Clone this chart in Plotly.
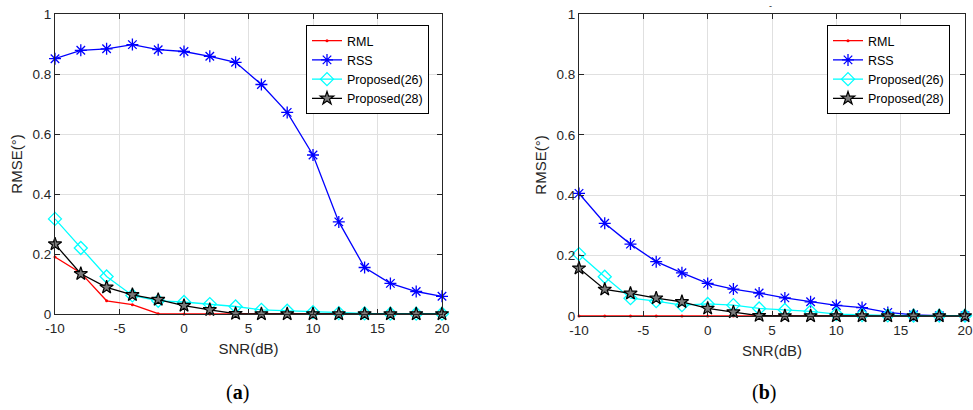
import plotly.graph_objects as go

snr = [-10, -8, -6, -4, -2, 0, 2, 4, 6, 8, 10, 12, 14, 16, 18, 20]

# Panel (a)
rml_a = [0.190, 0.137, 0.044, 0.031, 0.001, 0.0, 0.0, 0.0, 0.0, 0.0, 0.0, 0.0, 0.0, 0.0, 0.0, 0.0]
rss_a = [0.851, 0.879, 0.884, 0.898, 0.881, 0.875, 0.859, 0.839, 0.765, 0.672, 0.530,
         0.307, 0.155, 0.102, 0.075, 0.059]
p26_a = [0.317, 0.220, 0.125, 0.062, 0.044, 0.040, 0.033, 0.025, 0.014, 0.011, 0.006,
         0.003, 0.002, 0.001, 0.001, 0.001]
p28_a = [0.233, 0.134, 0.089, 0.064, 0.048, 0.028, 0.014, 0.001, 0.0, 0.0, 0.0,
         0.0, 0.0, 0.0, 0.0, 0.0]

# Panel (b)
rml_b = [0.0] * 16
rss_b = [0.406, 0.307, 0.238, 0.180, 0.143, 0.108, 0.089, 0.076, 0.060, 0.047, 0.035,
         0.028, 0.012, 0.004, 0.001, 0.001]
p26_b = [0.205, 0.130, 0.059, 0.049, 0.036, 0.040, 0.036, 0.025, 0.020, 0.015, 0.006,
         0.003, 0.002, 0.001, 0.001, 0.001]
p28_b = [0.158, 0.088, 0.075, 0.059, 0.047, 0.025, 0.013, 0.001, 0.0, 0.0, 0.0,
         0.0, 0.0, 0.0, 0.0, 0.0]

names = ["RML", "RSS", "Proposed(26)", "Proposed(28)"]
x_ticks = [-10, -5, 0, 5, 10, 15, 20]
y_ticks = [0, 0.2, 0.4, 0.6, 0.8, 1]
y_labels = ["0", "0.2", "0.4", "0.6", "0.8", "1"]

W, H = 973, 410
FONT = "Liberation Sans, Arial, sans-serif"
AX = "#262626"

styles = [
    dict(line=dict(color="#ff0000", width=1.3),
         marker=dict(symbol="circle", size=3, color="#ff0000")),
    dict(line=dict(color="#0000ff", width=1.3),
         marker=dict(symbol="asterisk-open", size=10, color="#0000ff",
                     line=dict(color="#0000ff", width=1.3))),
    dict(line=dict(color="#00ffff", width=1.3),
         marker=dict(symbol="diamond-open", size=10, color="#00ffff",
                     line=dict(color="#00ffff", width=1.3))),
    dict(line=dict(color="#000000", width=1.3),
         marker=dict(symbol="star", size=10, color="#7a7a7a",
                     line=dict(color="#000000", width=1.2))),
]

fig = go.Figure()
panels = [
    ([rml_a, rss_a, p26_a, p28_a], "x", "y", "legend"),
    ([rml_b, rss_b, p26_b, p28_b], "x2", "y2", "legend2"),
]
for series, xa, ya, lg in panels:
    for name, vals, st in zip(names, series, styles):
        fig.add_trace(go.Scatter(
            x=snr, y=vals, name=name, mode="lines+markers",
            xaxis=xa, yaxis=ya, legend=lg, cliponaxis=False, **st))

def px_x(p):
    return p / W

def px_y(p):
    return 1 - p / H

axis_common = dict(
    showline=True, linecolor=AX, linewidth=1, mirror="allticks",
    ticks="inside", ticklen=5, tickcolor=AX, tickwidth=1,
    showgrid=True, gridcolor="#e0e0e0", gridwidth=1, zeroline=False,
    automargin=False,
    tickfont=dict(family=FONT, size=13.5, color=AX),
)
title_font = dict(family=FONT, size=15, color=AX)

fig.update_layout(
    width=W, height=H,
    margin=dict(l=0, r=0, t=0, b=0),
    plot_bgcolor="white", paper_bgcolor="white",
    font=dict(family=FONT, color=AX),
    xaxis=dict(domain=[px_x(55), px_x(442)], range=[-10, 20], anchor="y",
               tickvals=x_ticks, ticktext=[str(v) for v in x_ticks], ticklabelstandoff=2,
               title=dict(text="SNR(dB)", font=title_font, standoff=8),
               **axis_common),
    yaxis=dict(domain=[px_y(314), px_y(14)], range=[0, 1], anchor="x",
               tickvals=y_ticks, ticktext=y_labels,
               title=dict(text="RMSE(°)", font=title_font, standoff=6),
               **axis_common),
    xaxis2=dict(domain=[px_x(579), px_x(965)], range=[-10, 20], anchor="y2",
                tickvals=x_ticks, ticktext=[str(v) for v in x_ticks], ticklabelstandoff=2,
                title=dict(text="SNR(dB)", font=title_font, standoff=8),
                **axis_common),
    yaxis2=dict(domain=[px_y(316), px_y(14)], range=[0, 1], anchor="x2",
                tickvals=y_ticks, ticktext=y_labels,
                title=dict(text="RMSE(°)", font=title_font, standoff=6),
                **axis_common),
    legend=dict(x=px_x(306), y=px_y(25), xanchor="left", yanchor="top",
                bgcolor="white", bordercolor="#000000", borderwidth=1,
                font=dict(family=FONT, size=12.5, color="#000000"),
                tracegroupgap=0, itemwidth=30),
    legend2=dict(x=px_x(827), y=px_y(25), xanchor="left", yanchor="top",
                 bgcolor="white", bordercolor="#000000", borderwidth=1,
                 font=dict(family=FONT, size=12.5, color="#000000"),
                 tracegroupgap=0, itemwidth=30),
    annotations=[
        dict(text="(<b>a</b>)", x=px_x(237), y=px_y(392), xref="paper", yref="paper",
             showarrow=False, xanchor="center", yanchor="middle",
             font=dict(family="Liberation Serif, Times New Roman, serif", size=20, color="#000000")),
        dict(text="(<b>b</b>)", x=px_x(764), y=px_y(392), xref="paper", yref="paper",
             showarrow=False, xanchor="center", yanchor="middle",
             font=dict(family="Liberation Serif, Times New Roman, serif", size=20, color="#000000")),
        dict(text="-", x=px_x(770), y=px_y(6), xref="paper", yref="paper",
             showarrow=False, xanchor="center", yanchor="middle",
             font=dict(family=FONT, size=9, color=AX)),
    ],
)

fig.write_html("out.html")
